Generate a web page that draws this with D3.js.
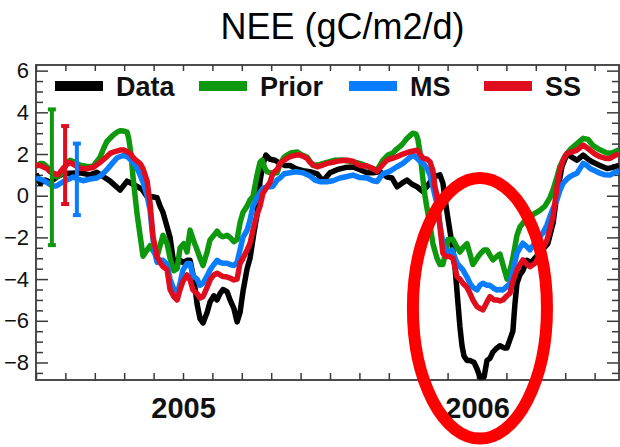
<!DOCTYPE html>
<html>
<head>
<meta charset="utf-8">
<script src="https://cdn.jsdelivr.net/npm/d3@7"></script>
<style>
body{margin:0;background:#fff}
svg{display:block;font-family:"Liberation Sans",Arial,sans-serif}
</style>
</head>
<body>
<svg id="chart" width="620" height="447"></svg>
<script>
// ---- data, x = decimal year, y = NEE gC/m2/d
const title = "NEE (gC/m2/d)";
const seriesNames = ["Data", "Prior", "MS", "SS"];
const yearLabels = [2005, 2006];
const yTicks = [-8, -6, -4, -2, 0, 2, 4, 6];

const dataSeries = [[2004.500,1.05],[2004.514,0.6],[2004.531,0.75],[2004.548,0.65],[2004.571,0.9],[2004.592,1.05],[2004.616,1.08],[2004.650,1.1],[2004.684,1.0],[2004.707,1.12],[2004.731,0.9],[2004.752,0.7],[2004.772,0.45],[2004.786,0.27],[2004.810,0.7],[2004.830,0.55],[2004.844,0.45],[2004.861,0.3],[2004.878,-0.05],[2004.895,-0.05],[2004.912,-0.1],[2004.922,-0.5],[2004.932,-0.8],[2004.946,-1.5],[2004.956,-2.0],[2004.966,-3.0],[2004.980,-3.3],[2004.990,-3.1],[2005.000,-3.2],[2005.014,-3.1],[2005.024,-3.1],[2005.037,-4.0],[2005.048,-5.2],[2005.058,-5.9],[2005.068,-6.1],[2005.082,-5.6],[2005.092,-5.1],[2005.105,-4.8],[2005.116,-5.0],[2005.126,-4.7],[2005.136,-4.5],[2005.150,-4.6],[2005.160,-5.0],[2005.173,-5.4],[2005.184,-6.05],[2005.194,-5.6],[2005.204,-4.6],[2005.218,-3.5],[2005.228,-3.0],[2005.241,-1.8],[2005.252,-0.9],[2005.262,0.7],[2005.272,1.5],[2005.282,1.95],[2005.296,1.75],[2005.313,1.7],[2005.330,1.55],[2005.347,1.45],[2005.364,1.45],[2005.384,1.3],[2005.408,1.2],[2005.432,1.15],[2005.456,1.05],[2005.476,0.7],[2005.500,1.1],[2005.524,1.25],[2005.551,1.35],[2005.578,1.38],[2005.602,1.25],[2005.626,1.1],[2005.646,1.1],[2005.670,1.15],[2005.694,0.9],[2005.711,0.85],[2005.728,0.43],[2005.745,0.6],[2005.762,0.75],[2005.779,0.55],[2005.796,0.43],[2005.816,0.2],[2005.833,0.5],[2005.850,0.85],[2005.864,0.95],[2005.874,1.0],[2005.884,0.6],[2005.891,-0.1],[2005.898,-0.8],[2005.908,-1.7],[2005.918,-2.6],[2005.925,-3.4],[2005.935,-5.1],[2005.942,-6.3],[2005.949,-7.2],[2005.956,-7.7],[2005.966,-7.9],[2005.976,-7.9],[2005.990,-8.0],[2006.000,-8.3],[2006.010,-8.7],[2006.024,-8.7],[2006.034,-7.9],[2006.044,-7.8],[2006.054,-7.5],[2006.068,-7.3],[2006.078,-7.2],[2006.092,-7.3],[2006.102,-7.3],[2006.112,-6.9],[2006.122,-6.5],[2006.129,-5.2],[2006.136,-4.2],[2006.146,-3.8],[2006.156,-3.6],[2006.170,-3.1],[2006.184,-3.2],[2006.241,-2.3],[2006.259,-1.3],[2006.272,0.1],[2006.289,1.4],[2006.306,2.0],[2006.323,1.85],[2006.340,1.7],[2006.361,1.95],[2006.378,1.75],[2006.395,1.6],[2006.418,1.45],[2006.442,1.3],[2006.459,1.35],[2006.483,1.45]];

const priorSeries = [[2004.500,1.4],[2004.514,1.55],[2004.524,1.55],[2004.537,1.4],[2004.548,1.23],[2004.561,1.0],[2004.571,0.9],[2004.582,1.0],[2004.592,1.15],[2004.605,1.6],[2004.616,1.7],[2004.633,1.6],[2004.650,1.47],[2004.673,1.4],[2004.694,1.4],[2004.718,1.85],[2004.731,2.3],[2004.741,2.6],[2004.762,2.9],[2004.776,3.05],[2004.786,3.12],[2004.799,3.1],[2004.810,3.05],[2004.816,2.7],[2004.823,2.0],[2004.830,0.9],[2004.837,0.0],[2004.844,-0.9],[2004.854,-1.9],[2004.864,-2.9],[2004.878,-2.6],[2004.888,-2.4],[2004.901,-2.7],[2004.912,-2.9],[2004.922,-2.4],[2004.932,-1.9],[2004.946,-2.3],[2004.956,-3.0],[2004.969,-3.6],[2004.980,-3.5],[2004.990,-2.5],[2005.003,-2.3],[2005.014,-2.7],[2005.024,-1.65],[2005.037,-2.2],[2005.048,-2.6],[2005.058,-3.0],[2005.068,-3.35],[2005.082,-2.7],[2005.092,-2.12],[2005.105,-1.9],[2005.116,-1.7],[2005.126,-1.9],[2005.136,-1.97],[2005.150,-1.9],[2005.160,-2.0],[2005.173,-2.2],[2005.184,-2.1],[2005.194,-1.3],[2005.204,-0.8],[2005.218,-0.5],[2005.228,-0.2],[2005.238,-0.05],[2005.252,1.0],[2005.262,1.6],[2005.269,1.71],[2005.279,1.3],[2005.286,1.15],[2005.296,1.1],[2005.306,1.08],[2005.320,1.1],[2005.330,1.5],[2005.344,1.85],[2005.354,1.95],[2005.367,2.05],[2005.388,2.1],[2005.405,1.95],[2005.422,1.85],[2005.442,1.45],[2005.466,1.5],[2005.490,1.6],[2005.517,1.7],[2005.544,1.71],[2005.568,1.65],[2005.588,1.6],[2005.612,1.5],[2005.636,1.35],[2005.660,1.23],[2005.680,1.7],[2005.697,1.95],[2005.714,2.05],[2005.728,2.25],[2005.745,2.45],[2005.762,2.75],[2005.782,3.0],[2005.793,2.95],[2005.799,2.7],[2005.806,2.1],[2005.816,0.8],[2005.823,0.0],[2005.830,-0.6],[2005.840,-1.4],[2005.850,-2.3],[2005.864,-3.0],[2005.874,-3.3],[2005.884,-3.3],[2005.895,-2.6],[2005.901,-2.1],[2005.918,-2.1],[2005.929,-2.4],[2005.942,-2.7],[2005.952,-2.5],[2005.966,-2.3],[2005.976,-2.8],[2005.986,-3.3],[2006.000,-3.0],[2006.010,-2.8],[2006.024,-2.6],[2006.034,-2.6],[2006.044,-2.85],[2006.054,-3.08],[2006.068,-2.9],[2006.078,-2.8],[2006.088,-3.3],[2006.102,-4.0],[2006.112,-3.6],[2006.122,-3.0],[2006.136,-1.9],[2006.146,-1.5],[2006.163,-1.2],[2006.180,-1.0],[2006.197,-0.85],[2006.214,-0.7],[2006.231,-0.5],[2006.248,-0.1],[2006.259,0.3],[2006.272,0.9],[2006.282,1.4],[2006.299,1.9],[2006.316,2.2],[2006.340,2.5],[2006.361,2.75],[2006.378,2.7],[2006.395,2.4],[2006.418,2.2],[2006.442,2.05],[2006.459,2.05],[2006.483,2.2]];

const msSeries = [[2004.500,0.85],[2004.524,0.75],[2004.541,0.6],[2004.558,0.45],[2004.571,0.48],[2004.592,0.67],[2004.605,0.75],[2004.626,0.9],[2004.643,0.8],[2004.660,0.72],[2004.684,0.8],[2004.707,0.85],[2004.724,1.0],[2004.741,1.25],[2004.759,1.55],[2004.776,1.82],[2004.796,1.93],[2004.810,1.88],[2004.820,1.75],[2004.833,1.55],[2004.844,1.3],[2004.854,1.0],[2004.864,0.65],[2004.878,0.0],[2004.888,-0.7],[2004.898,-2.1],[2004.905,-2.8],[2004.912,-3.2],[2004.922,-3.1],[2004.932,-3.1],[2004.946,-3.3],[2004.956,-4.0],[2004.969,-4.5],[2004.980,-4.75],[2004.990,-4.2],[2005.000,-3.56],[2005.014,-3.25],[2005.024,-3.25],[2005.034,-3.85],[2005.048,-4.0],[2005.058,-4.3],[2005.068,-4.2],[2005.082,-3.85],[2005.092,-3.56],[2005.105,-3.3],[2005.116,-3.1],[2005.126,-3.2],[2005.136,-3.24],[2005.150,-3.24],[2005.160,-3.3],[2005.173,-3.35],[2005.184,-3.2],[2005.194,-2.6],[2005.204,-2.0],[2005.218,-1.65],[2005.228,-1.17],[2005.238,-0.5],[2005.252,-0.1],[2005.262,0.15],[2005.272,0.35],[2005.286,0.43],[2005.296,0.43],[2005.306,0.45],[2005.320,0.75],[2005.330,0.85],[2005.344,1.05],[2005.364,1.1],[2005.384,1.15],[2005.408,1.1],[2005.432,0.95],[2005.449,0.75],[2005.466,0.67],[2005.490,0.67],[2005.510,0.72],[2005.534,0.85],[2005.558,0.92],[2005.578,0.99],[2005.602,0.87],[2005.626,0.85],[2005.646,0.72],[2005.660,0.68],[2005.680,1.05],[2005.704,1.18],[2005.728,1.39],[2005.748,1.55],[2005.765,1.75],[2005.782,1.95],[2005.796,1.8],[2005.806,1.65],[2005.820,1.5],[2005.830,1.3],[2005.840,1.0],[2005.850,0.43],[2005.864,-0.4],[2005.874,-1.4],[2005.884,-2.28],[2005.891,-2.6],[2005.901,-2.7],[2005.915,-2.6],[2005.932,-3.24],[2005.942,-3.4],[2005.952,-3.56],[2005.966,-3.9],[2005.976,-4.2],[2005.986,-4.4],[2006.000,-4.52],[2006.010,-4.3],[2006.020,-4.2],[2006.034,-4.3],[2006.044,-4.3],[2006.058,-4.45],[2006.068,-4.52],[2006.078,-4.5],[2006.088,-4.52],[2006.102,-4.35],[2006.112,-4.2],[2006.122,-3.6],[2006.136,-2.76],[2006.146,-2.5],[2006.156,-2.28],[2006.170,-2.45],[2006.180,-2.6],[2006.190,-2.4],[2006.204,-2.12],[2006.214,-1.95],[2006.224,-1.8],[2006.238,-1.4],[2006.248,-1.0],[2006.259,-0.6],[2006.272,-0.2],[2006.282,0.25],[2006.293,0.6],[2006.306,0.8],[2006.316,0.91],[2006.327,1.0],[2006.340,1.08],[2006.350,1.3],[2006.361,1.55],[2006.374,1.45],[2006.384,1.31],[2006.401,1.2],[2006.418,1.08],[2006.435,1.0],[2006.452,0.99],[2006.466,1.1],[2006.483,1.2]];

const ssSeries = [[2004.500,1.47],[2004.514,1.45],[2004.524,1.39],[2004.537,1.3],[2004.548,1.15],[2004.558,1.08],[2004.575,1.0],[2004.592,1.31],[2004.605,1.5],[2004.616,1.6],[2004.633,1.45],[2004.650,1.31],[2004.673,1.31],[2004.694,1.35],[2004.718,1.6],[2004.735,1.8],[2004.752,2.03],[2004.769,2.12],[2004.786,2.19],[2004.799,2.19],[2004.810,2.11],[2004.820,2.03],[2004.833,1.79],[2004.844,1.65],[2004.854,1.55],[2004.864,1.3],[2004.878,0.7],[2004.888,-0.37],[2004.898,-1.97],[2004.912,-2.92],[2004.922,-3.2],[2004.932,-3.4],[2004.946,-3.56],[2004.956,-4.5],[2004.969,-4.85],[2004.980,-5.0],[2004.990,-4.5],[2005.000,-4.1],[2005.014,-3.8],[2005.024,-4.04],[2005.034,-4.52],[2005.048,-4.7],[2005.058,-4.9],[2005.068,-4.84],[2005.082,-4.4],[2005.092,-4.04],[2005.105,-3.8],[2005.116,-3.72],[2005.126,-3.8],[2005.136,-3.88],[2005.150,-3.9],[2005.160,-3.95],[2005.173,-4.04],[2005.184,-4.0],[2005.194,-3.24],[2005.204,-3.0],[2005.218,-2.6],[2005.228,-2.28],[2005.238,-1.65],[2005.252,-0.9],[2005.262,-0.5],[2005.272,0.12],[2005.286,0.43],[2005.296,0.65],[2005.306,1.08],[2005.320,1.25],[2005.330,1.55],[2005.344,1.71],[2005.364,1.87],[2005.384,1.95],[2005.398,1.95],[2005.408,1.9],[2005.422,1.79],[2005.432,1.6],[2005.446,1.45],[2005.456,1.39],[2005.476,1.47],[2005.490,1.55],[2005.510,1.6],[2005.534,1.68],[2005.558,1.7],[2005.578,1.65],[2005.602,1.45],[2005.626,1.42],[2005.646,1.3],[2005.660,1.17],[2005.680,1.5],[2005.694,1.71],[2005.714,1.8],[2005.728,1.87],[2005.748,2.0],[2005.772,2.11],[2005.796,2.19],[2005.806,2.0],[2005.816,1.8],[2005.830,1.75],[2005.840,1.63],[2005.850,1.2],[2005.857,0.43],[2005.864,0.0],[2005.874,-1.5],[2005.884,-2.76],[2005.895,-2.92],[2005.908,-2.92],[2005.918,-3.0],[2005.932,-3.88],[2005.942,-4.0],[2005.952,-4.2],[2005.966,-4.4],[2005.976,-4.68],[2005.986,-5.0],[2006.000,-5.32],[2006.010,-5.4],[2006.020,-5.48],[2006.034,-5.1],[2006.044,-4.84],[2006.058,-5.0],[2006.068,-5.0],[2006.078,-5.05],[2006.088,-5.0],[2006.102,-4.8],[2006.112,-4.68],[2006.122,-4.1],[2006.136,-3.56],[2006.146,-3.3],[2006.156,-3.08],[2006.170,-3.3],[2006.180,-3.4],[2006.197,-3.24],[2006.204,-3.1],[2006.238,-2.12],[2006.248,-1.6],[2006.259,-1.0],[2006.272,0.43],[2006.282,1.23],[2006.293,1.7],[2006.306,2.03],[2006.323,2.1],[2006.340,2.19],[2006.361,2.43],[2006.374,2.3],[2006.384,2.19],[2006.401,2.0],[2006.418,1.87],[2006.435,1.8],[2006.452,1.79],[2006.466,1.9],[2006.483,2.03]];

// uncertainty bars near the start
const errNames = ["Prior", "SS", "MS"];
const errTime = [2004.554, 2004.599, 2004.639];
const errLow = [-2.37, -0.4, -0.93];
const errHigh = [4.14, 3.34, 2.5];

// ---- setup
const colors = {Data: "#000000", Prior: "#0d980d", MS: "#0a7dff", SS: "#e00d1f"};
const series = [
  {name: "Data", values: dataSeries},
  {name: "Prior", values: priorSeries},
  {name: "MS", values: msSeries},
  {name: "SS", values: ssSeries}
];

const W = 620, H = 447;
const margin = {top: 65, right: 1, bottom: 67, left: 36};
const iw = W - margin.left - margin.right;
const ih = H - margin.top - margin.bottom;
const axisColor = "#3a3a3a";

const svg = d3.select("#chart");

const x = d3.scaleLinear().domain([2004.5, 2006.483]).range([0, iw]);
const y = d3.scaleLinear().domain([-8.84, 6.27]).range([ih, 0]);

svg.append("text")
  .attr("x", 342.5).attr("y", 39)
  .attr("text-anchor", "middle")
  .attr("font-size", 36)
  .attr("fill", "#000")
  .text(title);

const g = svg.append("g").attr("transform", `translate(${margin.left},${margin.top})`);

g.append("clipPath").attr("id", "plotclip")
  .append("rect").attr("width", iw).attr("height", ih);

const monthTicks = d3.range(0, 20).map(i => 2004.5 + i * 0.1);
const halfTicks = d3.range(-17, 13).map(i => i / 2).filter(v => v % 2 !== 0);

function styleAxis(sel) {
  sel.select(".domain").remove();
  sel.selectAll(".tick line").attr("stroke", axisColor).attr("stroke-width", 1.5);
}

// left axis, major + minor
g.append("g")
  .call(d3.axisLeft(y).tickValues(yTicks).tickSize(-12).tickPadding(7).tickFormat(d3.format("d")))
  .call(styleAxis)
  .call(a => a.selectAll("text").attr("font-size", 22).attr("fill", "#111")
    .attr("font-family", "'Liberation Sans', Arial, sans-serif"));
g.append("g")
  .call(d3.axisLeft(y).tickValues(halfTicks).tickSize(-7).tickFormat(""))
  .call(styleAxis);

// right axis
g.append("g").attr("transform", `translate(${iw},0)`)
  .call(d3.axisRight(y).tickValues(yTicks).tickSize(-12).tickFormat(""))
  .call(styleAxis);
g.append("g").attr("transform", `translate(${iw},0)`)
  .call(d3.axisRight(y).tickValues(halfTicks).tickSize(-7).tickFormat(""))
  .call(styleAxis);

// top and bottom axes
g.append("g")
  .call(d3.axisTop(x).tickValues(monthTicks).tickSize(-6).tickFormat(""))
  .call(styleAxis);
g.append("g").attr("transform", `translate(0,${ih})`)
  .call(d3.axisBottom(x).tickValues(monthTicks).tickSize(-7).tickFormat(""))
  .call(styleAxis);
g.append("g").attr("transform", `translate(0,${ih})`)
  .call(d3.axisBottom(x).tickValues(yearLabels).tickSize(0).tickPadding(17).tickFormat(d3.format("d")))
  .call(a => a.select(".domain").remove())
  .call(a => a.selectAll("text").attr("font-size", 29).attr("font-weight", "bold")
    .attr("fill", "#111").attr("font-family", "'Liberation Sans', Arial, sans-serif"));

// frame
g.append("rect")
  .attr("width", iw).attr("height", ih)
  .attr("fill", "none").attr("stroke", axisColor).attr("stroke-width", 1.8);

// lines
const line = d3.line().x(d => x(d[0])).y(d => y(d[1]));
const plot = g.append("g").attr("clip-path", "url(#plotclip)");

plot.selectAll(".series")
  .data(series)
  .enter()
  .append("path")
  .attr("class", "series")
  .attr("d", d => line(d.values))
  .attr("fill", "none")
  .attr("stroke", d => colors[d.name])
  .attr("stroke-width", 5.5)
  .attr("stroke-linejoin", "round");

// error bars
const eb = plot.selectAll(".err")
  .data(errNames.map((n, i) => ({name: n, t: errTime[i], lo: errLow[i], hi: errHigh[i]})))
  .enter().append("g").attr("class", "err")
  .attr("stroke", d => colors[d.name]).attr("stroke-width", 4);
eb.append("line")
  .attr("x1", d => x(d.t)).attr("x2", d => x(d.t))
  .attr("y1", d => y(d.lo)).attr("y2", d => y(d.hi));
eb.append("line")
  .attr("x1", d => x(d.t) - 4).attr("x2", d => x(d.t) + 4)
  .attr("y1", d => y(d.hi)).attr("y2", d => y(d.hi));
eb.append("line")
  .attr("x1", d => x(d.t) - 4).attr("x2", d => x(d.t) + 4)
  .attr("y1", d => y(d.lo)).attr("y2", d => y(d.lo));

// legend
const legendX = [55, 199, 349, 484];
const legend = svg.append("g").selectAll("g")
  .data(seriesNames)
  .enter().append("g")
  .attr("transform", (d, i) => `translate(${legendX[i]},86)`);
legend.append("line")
  .attr("x1", 0).attr("x2", 48)
  .attr("stroke", d => colors[d]).attr("stroke-width", 10);
legend.append("text")
  .attr("x", 61).attr("y", 9.5)
  .attr("font-size", 27).attr("font-weight", "bold").attr("fill", "#111")
  .text(d => d);

// highlight ellipse around the 2006 drought dip
svg.append("ellipse")
  .attr("cx", margin.left + x(2006.01))
  .attr("cy", margin.top + y(-5.4))
  .attr("rx", x(2006.238) - x(2006.01))
  .attr("ry", y(-5.4 - 6.25) - y(-5.4))
  .attr("fill", "none")
  .attr("stroke", "#ff0000")
  .attr("stroke-width", 12);
</script>
</body>
</html>
